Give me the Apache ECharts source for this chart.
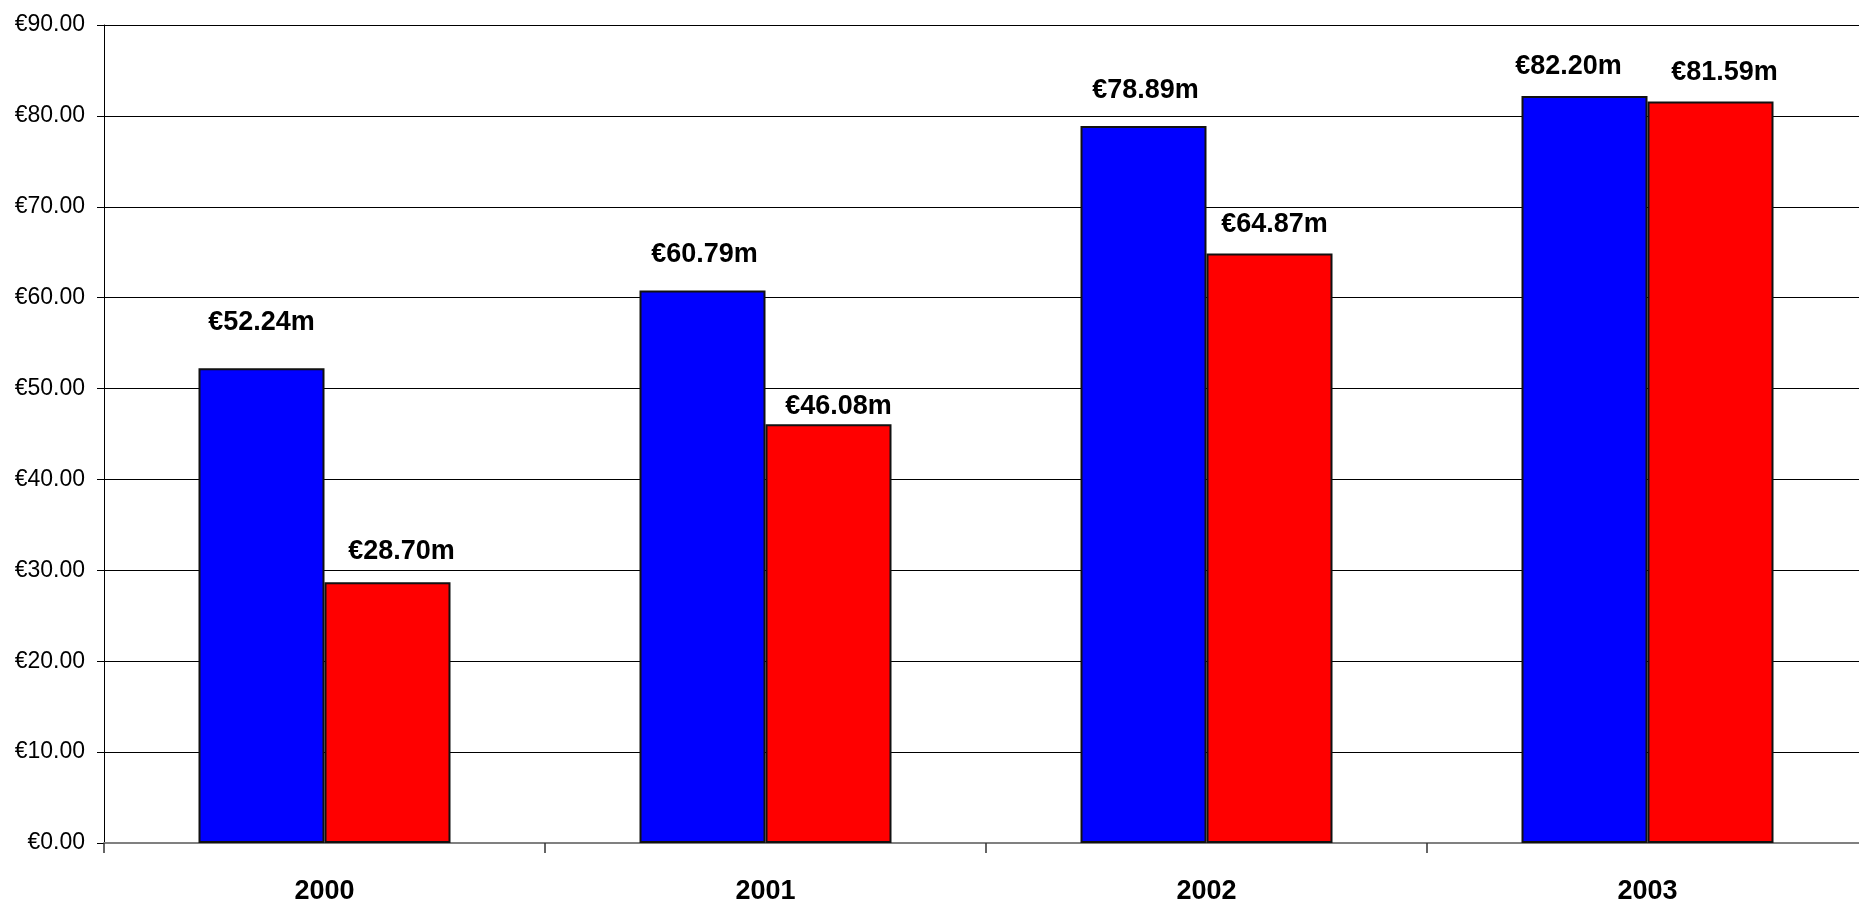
<!DOCTYPE html>
<html>
<head>
<meta charset="utf-8">
<title>Revenue by year</title>
<script src="https://cdn.jsdelivr.net/npm/echarts@6/dist/echarts.min.js"></script>
<style>
  html, body { margin: 0; padding: 0; background: #ffffff; }
  #chart { width: 1859px; height: 902px; }
</style>
</head>
<body>
<div id="chart"></div>
<script>
// Years on the category axis
const years = ['2000', '2001', '2002', '2003'];
// Values in € millions
const blueSeries = [52.24, 60.79, 78.89, 82.20];
const redSeries = [28.70, 46.08, 64.87, 81.59];
// Value axis range
const yMin = 0;
const yMax = 90;
const yStep = 10;

// Hand-placed label nudges [dx, dy] in px, per bar
const blueNudges = [[0, -27], [2, -17], [2, -17], [-16, -11]];
const redNudges = [[14, -12], [10, 1], [5, -10], [14, -10]];

const FONT = '"Liberation Sans", Arial, sans-serif';

function euro(v) { return '€' + v.toFixed(2); }

function barData(values, nudges) {
  return values.map((v, i) => ({
    value: v,
    label: { offset: nudges[i] }
  }));
}

const valueLabel = {
  show: true,
  position: 'top',
  distance: 5,
  fontFamily: FONT,
  fontWeight: 'bold',
  fontSize: 27,
  lineHeight: 27,
  color: '#000',
  formatter: p => euro(p.value) + 'm'
};

const chart = echarts.init(document.getElementById('chart'), null, { renderer: 'canvas' });
chart.setOption({
  animation: false,
  backgroundColor: '#ffffff',
  grid: {
    left: 104,
    top: 25,
    width: 1764,
    height: 818,
    containLabel: false,
    outerBoundsMode: 'none'
  },
  xAxis: {
    type: 'category',
    data: years,
    boundaryGap: true,
    axisLine: { show: true, lineStyle: { color: '#808080', width: 2 } },
    axisTick: { show: true, length: 10, lineStyle: { color: '#333', width: 1.5 } },
    axisLabel: {
      margin: 35,
      fontFamily: FONT,
      fontWeight: 'bold',
      fontSize: 27,
      color: '#000'
    },
    splitLine: { show: false }
  },
  yAxis: {
    type: 'value',
    min: yMin,
    max: yMax,
    interval: yStep,
    axisLine: { show: true, lineStyle: { color: '#000', width: 1 } },
    axisTick: { show: true, length: 7, inside: false, lineStyle: { color: '#000', width: 1 } },
    axisLabel: {
      margin: 19,
      fontFamily: FONT,
      fontSize: 23,
      color: '#000',
      formatter: v => euro(v)
    },
    splitLine: { show: true, lineStyle: { color: '#000', width: 1 } }
  },
  series: [
    {
      name: 'blue',
      type: 'bar',
      data: barData(blueSeries, blueNudges),
      barWidth: 126,
      barGap: '0%',
      itemStyle: { color: '#0000ff', borderColor: '#111', borderWidth: 2 },
      label: valueLabel
    },
    {
      name: 'red',
      type: 'bar',
      data: barData(redSeries, redNudges),
      barWidth: 126,
      barGap: '0%',
      itemStyle: { color: '#ff0000', borderColor: '#111', borderWidth: 2 },
      label: valueLabel
    }
  ]
});
</script>
</body>
</html>
